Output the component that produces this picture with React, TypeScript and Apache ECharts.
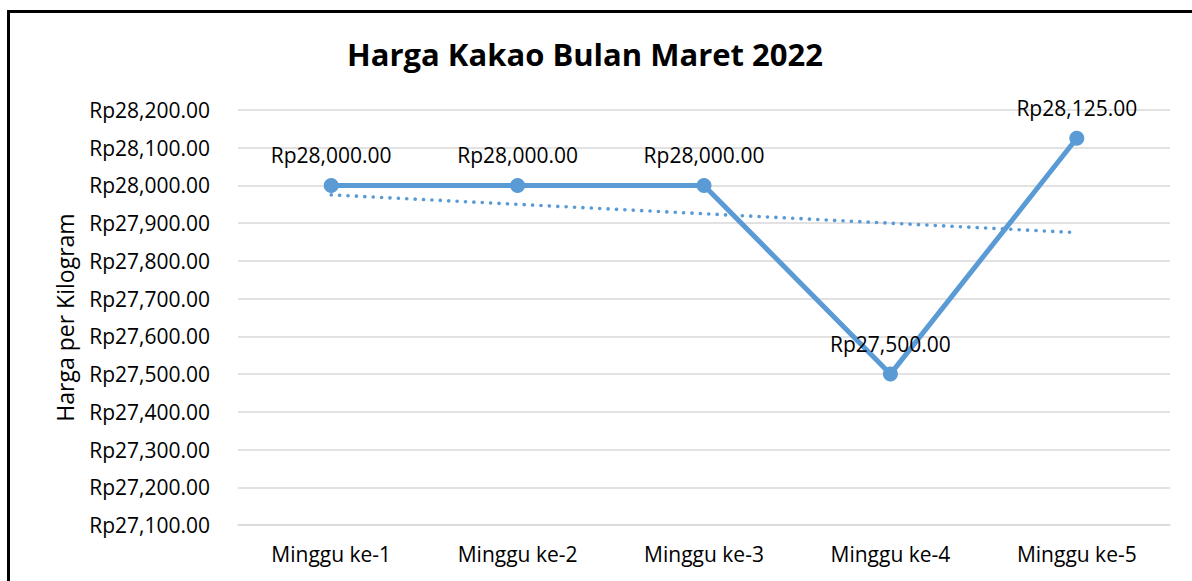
import React, { useEffect, useRef } from "react";
import * as echarts from "echarts";

const categories = ["Minggu ke-1", "Minggu ke-2", "Minggu ke-3", "Minggu ke-4", "Minggu ke-5"];
const hargaValues = [28000, 28000, 28000, 27500, 28125];
const trendValues = [27975, 27950, 27925, 27900, 27875];
const yMin = 27100;
const yMax = 28200;
const yInterval = 100;
const titleText = "Harga Kakao Bulan Maret 2022";
const yAxisName = "Harga per Kilogram";

const FONT = "'Open Sans', 'Noto Sans', sans-serif";
const BLUE = "#5B9BD5";
const FS = 21;

const fmtRp = (v: number) =>
  "Rp" + v.toLocaleString("en-US", { minimumFractionDigits: 2, maximumFractionDigits: 2 });

export default function App() {
  const ref = useRef<HTMLDivElement>(null);
  useEffect(() => {
    if (!ref.current) return;
    const chart = echarts.init(ref.current, null, { renderer: "svg" });
    chart.setOption({
      animation: false,
      backgroundColor: "#ffffff",
      title: {
        text: titleText,
        left: 580,
        top: 33,
        textAlign: "center",
        textStyle: { fontFamily: FONT, fontSize: 31, fontWeight: "bold", color: "#000" },
      },
      grid: { left: 238, right: 22, top: 110, bottom: 56 },
      xAxis: {
        type: "category",
        data: categories,
        boundaryGap: true,
        axisLine: { show: true, lineStyle: { color: "#D9D9D9", width: 1.5 } },
        axisTick: { show: false },
        axisLabel: { fontFamily: FONT, fontSize: FS, color: "#000", margin: 18 },
        splitLine: { show: false },
      },
      yAxis: {
        type: "value",
        min: yMin,
        max: yMax,
        interval: yInterval,
        name: yAxisName,
        nameLocation: "middle",
        nameGap: 162,
        nameRotate: 90,
        nameTextStyle: { fontFamily: FONT, fontSize: 23, color: "#000" },
        axisLine: { show: false },
        axisTick: { show: false },
        axisLabel: { fontFamily: FONT, fontSize: FS, color: "#000", margin: 28, formatter: fmtRp },
        splitLine: { lineStyle: { color: "#D9D9D9", width: 1.5 } },
      },
      series: [
        {
          type: "line",
          data: hargaValues,
          lineStyle: { color: BLUE, width: 5 },
          itemStyle: { color: BLUE },
          symbol: "circle",
          symbolSize: 15,
          label: {
            show: true,
            position: "top",
            distance: 12,
            fontFamily: FONT,
            fontSize: FS,
            color: "#000",
            formatter: (p: any) => fmtRp(p.value),
          },
          z: 2,
        },
        {
          type: "line",
          data: trendValues,
          lineStyle: { color: BLUE, width: 3.6, type: [0.1, 8.3], cap: "round" },
          symbol: "none",
          z: 3,
        },
      ],
    });
    return () => chart.dispose();
  }, []);
  return (
    <div style={{ position: "fixed", left: 0, top: 0, width: 1192, height: 581, overflow: "hidden", background: "#fff" }}>
      <div ref={ref} style={{ position: "absolute", left: 0, top: 0, width: 1192, height: 581 }} />
      <div
        style={{
          position: "absolute",
          left: 7,
          top: 10,
          width: 1300,
          height: 700,
          border: "3px solid #000",
          pointerEvents: "none",
        }}
      />
    </div>
  );
}
